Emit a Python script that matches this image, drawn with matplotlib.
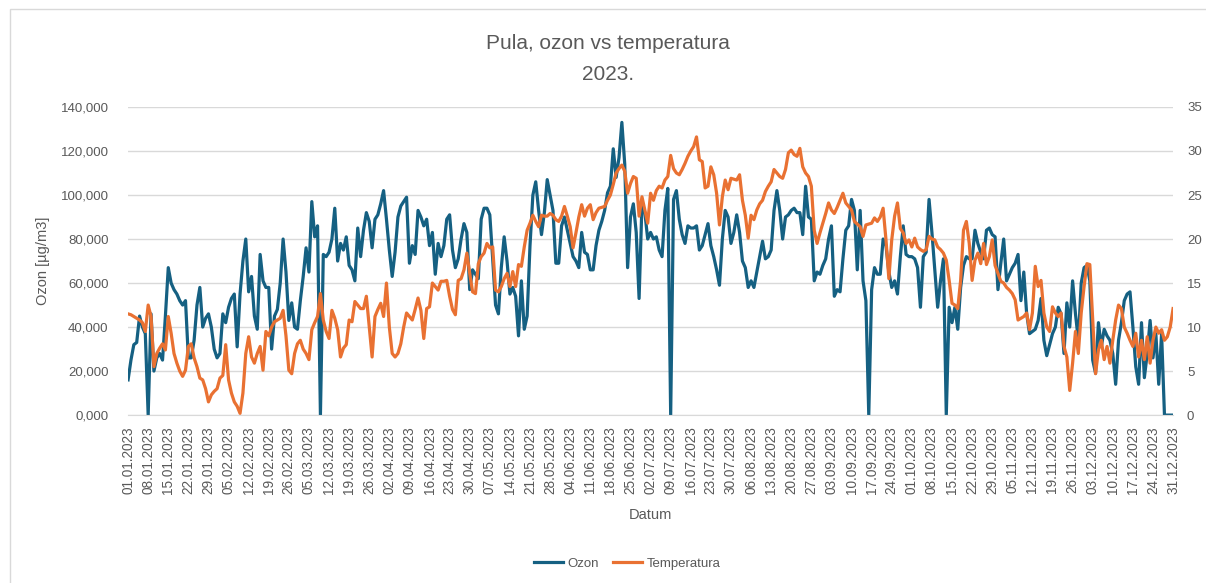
import matplotlib
matplotlib.use("Agg")
import matplotlib.pyplot as plt
import matplotlib.dates as mdates
from matplotlib.ticker import FuncFormatter, MultipleLocator
from matplotlib.patches import Rectangle
import pandas as pd

title = "Pula, ozon vs temperatura\n2023."
dates = pd.date_range("2023-01-01", "2023-12-31", freq="D")

ozon = [
    16, 25, 32, 33, 45, 40, 37, 0, 46, 20,
    26, 28, 25, 45, 67, 60, 57, 55, 52, 50,
    52, 26, 26, 34, 50, 58, 40, 44, 46, 40,
    30, 26, 28, 46, 42, 49, 53, 55, 31, 55,
    70, 80, 56, 63, 45, 39, 73, 61, 58, 58,
    30, 45, 48, 60, 80, 65, 43, 51, 40, 39,
    52, 63, 76, 65, 97, 81, 86, 0, 73, 72,
    74, 80, 94, 70, 78, 75, 81, 68, 66, 61,
    85, 72, 84, 92, 88, 76, 89, 91, 96, 102,
    89, 75, 63, 74, 90, 95, 97, 99, 69, 77,
    73, 93, 90, 86, 89, 77, 83, 64, 78, 72,
    77, 89, 91, 75, 67, 71, 80, 87, 83, 57,
    66, 64, 62, 89, 94, 94, 91, 71, 50, 46,
    67, 81, 70, 55, 58, 54, 36, 61, 39, 45,
    77, 100, 106, 93, 82, 92, 107, 100, 93, 69,
    69, 86, 90, 84, 78, 72, 70, 67, 83, 74,
    73, 66, 66, 77, 84, 88, 93, 101, 104, 121,
    108, 117, 133, 114, 67, 90, 96, 83, 53, 96,
    92, 80, 83, 80, 81, 75, 72, 93, 103, 0,
    98, 102, 89, 82, 78, 86, 85, 85, 86, 75,
    77, 82, 87, 77, 72, 66, 59, 80, 93, 90,
    78, 83, 91, 83, 70, 67, 58, 61, 58, 65,
    72, 79, 71, 72, 75, 93, 102, 93, 80, 90,
    91, 93, 94, 92, 92, 82, 104, 90, 89, 61,
    65, 64, 68, 71, 80, 86, 54, 57, 56, 71,
    84, 86, 98, 93, 66, 93, 61, 52, 0, 57,
    67, 64, 64, 80, 77, 65, 58, 61, 55, 72,
    86, 73, 72, 72, 71, 67, 49, 72, 74, 98,
    83, 66, 49, 61, 71, 0, 49, 42, 49, 39,
    58, 68, 72, 71, 71, 84, 78, 74, 71, 84,
    85, 82, 81, 57, 69, 80, 61, 64, 67, 69,
    73, 52, 65, 46, 37, 38, 39, 43, 53, 34,
    27, 32, 37, 40, 49, 46, 28, 51, 40, 61,
    46, 34, 60, 67, 68, 61, 25, 19, 42, 31,
    39, 36, 34, 28, 14, 34, 42, 52, 55, 56,
    40, 22, 14, 42, 17, 28, 43, 26, 37, 14,
    37, 0, 0, 0, 0,
]

temperatura = [
    11.5, 11.4, 11.2, 11.0, 10.8, 10.5, 9.5, 12.5, 11.2, 5.5,
    7.0, 7.6, 8.1, 7.4, 11.2, 9.3, 7.0, 5.9, 5.0, 4.4,
    5.1, 7.8, 8.1, 6.5, 5.5, 4.2, 4.0, 3.0, 1.5, 2.3,
    2.7, 3.0, 4.2, 4.5, 8.0, 4.0, 2.5, 1.5, 1.0, 0.2,
    2.5, 7.0, 8.9, 6.6, 5.9, 7.0, 7.8, 5.1, 9.5, 9.0,
    10.0, 10.6, 10.8, 11.0, 11.9, 9.0, 5.1, 4.7, 7.0, 8.1,
    8.5, 7.5, 7.0, 6.3, 9.7, 10.5, 11.2, 13.8, 10.8, 9.5,
    8.7, 11.9, 11.0, 9.7, 6.6, 7.6, 8.0, 10.8, 10.6, 12.9,
    12.5, 12.1, 12.1, 13.5, 10.0, 6.6, 11.2, 12.0, 12.7, 11.2,
    15.0, 10.0, 7.0, 6.6, 7.0, 8.1, 10.0, 11.6, 11.2, 10.8,
    12.0, 13.3, 11.9, 8.7, 12.1, 12.3, 15.0, 14.6, 14.2, 15.2,
    15.2, 15.3, 13.5, 12.0, 11.4, 15.3, 15.5, 16.5, 18.4, 16.1,
    14.0, 13.8, 17.2, 18.0, 18.4, 19.5, 19.0, 19.1, 14.2, 14.0,
    14.6, 15.5, 16.1, 14.6, 16.3, 14.6, 17.1, 16.9, 19.1, 21.0,
    21.8, 22.7, 22.0, 21.4, 22.7, 22.6, 22.6, 22.9, 22.7, 22.2,
    22.0, 22.6, 23.7, 22.6, 21.4, 19.0, 20.7, 22.5, 23.9, 22.6,
    23.5, 23.9, 22.2, 23.0, 23.5, 23.6, 23.7, 24.4, 25.0, 26.2,
    27.5, 28.0, 28.4, 27.7, 25.2, 26.3, 27.1, 26.9, 22.6, 24.8,
    23.3, 21.8, 25.2, 24.4, 25.5, 26.0, 25.8, 26.7, 27.1, 29.5,
    28.0, 27.5, 27.3, 27.9, 28.6, 29.4, 30.0, 30.5, 31.6, 29.0,
    28.8, 25.8, 26.0, 28.2, 27.3, 25.2, 21.6, 24.8, 26.7, 25.6,
    26.9, 26.8, 26.7, 27.3, 24.4, 22.7, 20.1, 22.7, 22.2, 23.3,
    24.0, 24.4, 25.4, 26.0, 26.5, 27.9, 27.5, 27.1, 26.9, 27.9,
    29.8, 30.1, 29.6, 29.4, 30.3, 28.2, 27.5, 27.1, 26.0, 21.0,
    19.5, 20.7, 21.8, 22.9, 24.1, 23.3, 22.9, 23.6, 24.4, 25.2,
    24.1, 23.7, 23.3, 22.0, 21.7, 21.4, 20.3, 21.6, 21.7, 21.8,
    22.4, 22.0, 22.5, 23.5, 19.9, 15.5, 19.9, 22.6, 24.1, 21.2,
    20.7, 19.5, 19.9, 19.1, 20.1, 19.1, 18.8, 18.6, 18.8, 20.3,
    20.0, 19.9, 19.1, 18.8, 18.4, 17.6, 15.3, 12.7, 12.5, 12.1,
    15.3, 21.0, 22.0, 19.5, 15.3, 17.6, 18.4, 17.2, 19.5, 17.1,
    18.0, 19.9, 17.0, 16.1, 15.2, 15.0, 14.5, 14.2, 13.8, 13.1,
    10.8, 11.0, 11.2, 11.6, 9.7, 11.6, 16.9, 14.6, 15.3, 11.6,
    10.0, 9.5, 12.3, 11.6, 11.2, 11.6, 7.8, 6.6, 2.8, 5.9,
    9.5, 7.0, 11.6, 14.6, 17.2, 17.1, 10.8, 4.7, 7.4, 8.5,
    6.3, 7.8, 5.9, 8.5, 10.8, 12.5, 12.1, 10.0, 9.3, 8.5,
    7.8, 9.3, 6.6, 8.5, 6.3, 8.9, 5.9, 8.5, 10.0, 9.3,
    9.7, 8.5, 8.9, 10.0, 12.1,
]

C_OZ = "#156082"
C_T = "#E97132"
TXT = "#595959"

plt.rcParams["font.family"] = ["Liberation Sans", "DejaVu Sans"]

fig = plt.figure(figsize=(12.06, 5.83), dpi=100)
ax = fig.add_axes([0.1062, 0.288, 0.8665, 0.5285])
ax2 = ax.twinx()

l1, = ax.plot(dates, ozon, color=C_OZ, lw=2.3, solid_joinstyle="round", label="Ozon")
l2, = ax2.plot(dates, temperatura, color=C_T, lw=2.3, solid_joinstyle="round", label="Temperatura")

ax.set_xlim(dates[0], dates[-1])
ax.set_ylim(0, 140)
ax2.set_ylim(0, 35)
ax.yaxis.set_major_locator(MultipleLocator(20))
ax2.yaxis.set_major_locator(MultipleLocator(5))
ax.yaxis.set_major_formatter(FuncFormatter(lambda v, p: f"{v:,.3f}".replace(".", ",")))
ax2.yaxis.set_major_formatter(FuncFormatter(lambda v, p: f"{v:.0f}"))

ax.set_xticks(dates[::7])
ax.xaxis.set_major_formatter(mdates.DateFormatter("%d.%m.%Y"))
plt.setp(ax.get_xticklabels(), rotation=90)

ax.grid(axis="y", color="#D9D9D9", lw=1)
ax.set_axisbelow(True)
for a in (ax, ax2):
    for s in a.spines.values():
        s.set_visible(False)
    a.tick_params(length=0, colors=TXT, labelsize=9.5)
ax.spines["bottom"].set_visible(True)
ax.spines["bottom"].set_color("#D9D9D9")
ax.tick_params(axis="y", pad=14)
ax2.tick_params(axis="y", pad=10)
ax.tick_params(axis="x", pad=8, labelsize=9.8)

ax.set_ylabel("Ozon [µg/m3]", color=TXT, fontsize=10.5, labelpad=8)
ax.set_xlabel("Datum", color=TXT, fontsize=10.5, labelpad=10)

fig.text(0.504, 0.925, "Pula, ozon vs temperatura", ha="center", va="center",
         fontsize=15, color=TXT, family=["Liberation Sans Narrow", "Liberation Sans", "DejaVu Sans"])
fig.text(0.504, 0.873, "2023.", ha="center", va="center",
         fontsize=15, color=TXT, family=["Liberation Sans Narrow", "Liberation Sans", "DejaVu Sans"])

fig.legend(handles=[l1, l2], loc="center", bbox_to_anchor=(0.52, 0.033), ncol=2,
           frameon=False, fontsize=9.5, labelcolor=TXT, handlelength=2.2,
           columnspacing=1.0, handletextpad=0.4)

fig.patches.append(Rectangle((0.008, -0.01), 1.0, 0.995, transform=fig.transFigure,
                             fill=False, edgecolor="#D9D9D9", lw=1))

fig.savefig("out.png", dpi=100, facecolor="white")
